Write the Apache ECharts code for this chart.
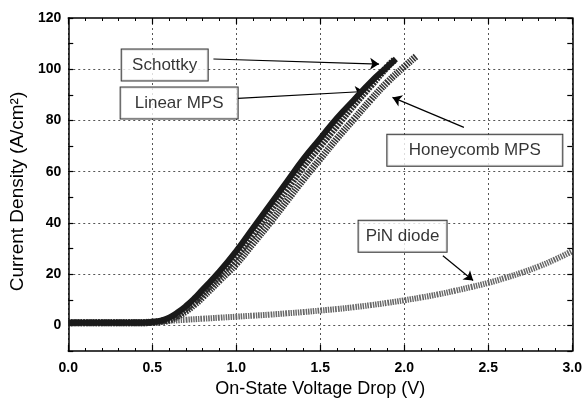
<!DOCTYPE html>
<html>
<head>
<meta charset="utf-8">
<script src="https://cdn.jsdelivr.net/npm/echarts@6/dist/echarts.min.js"></script>
<style>html,body{margin:0;padding:0;background:#fff}#c{width:585px;height:403px}</style>
</head>
<body>
<div id="c"></div>
<script>
// ---- data ----
const schottkyV = [0, 0.1, 0.2, 0.3, 0.4, 0.5, 0.55, 0.6, 0.65, 0.7, 0.75, 0.8, 0.9, 1.0, 1.1, 1.2, 1.3, 1.4, 1.5, 1.6, 1.7, 1.8, 1.9, 1.95];
const schottkyJ = [1, 1, 1, 1, 1, 1.3, 1.8, 3, 5, 7.5, 10.5, 14, 21, 29, 38, 47, 56, 65, 73, 81, 88, 95, 101, 104];
const linearV = [0, 0.1, 0.2, 0.3, 0.4, 0.5, 0.55, 0.6, 0.65, 0.7, 0.75, 0.8, 0.9, 1.0, 1.1, 1.2, 1.3, 1.4, 1.5, 1.6, 1.7, 1.8, 1.9, 1.94];
const linearJ = [1, 1, 1, 1, 1, 1.2, 1.6, 2.5, 4, 6.5, 9, 12.5, 19.5, 27, 35.5, 44.5, 53, 62, 70, 78, 86, 93.5, 101, 103.5];
const honeyV = [0, 0.1, 0.2, 0.3, 0.4, 0.5, 0.55, 0.6, 0.65, 0.7, 0.75, 0.8, 0.9, 1.0, 1.1, 1.2, 1.3, 1.4, 1.5, 1.6, 1.7, 1.8, 1.9, 2.0, 2.07];
const honeyJ = [1, 1, 1, 1, 1, 1.2, 1.5, 2, 3.5, 5.5, 8, 11, 17.5, 24, 32, 40, 48.5, 57, 65, 73, 80.5, 88, 95, 101, 105];
const pinV = [0, 0.2, 0.4, 0.5, 0.6, 0.7, 0.8, 0.9, 1.0, 1.1, 1.2, 1.3, 1.4, 1.5, 1.6, 1.7, 1.8, 1.9, 2.0, 2.1, 2.2, 2.3, 2.4, 2.5, 2.6, 2.7, 2.8, 2.9, 3.0];
const pinJ = [1, 1, 1.2, 1.5, 1.8, 2.2, 2.6, 3, 3.4, 3.8, 4.2, 4.7, 5.2, 5.8, 6.4, 7.1, 7.9, 8.8, 9.8, 10.9, 12.1, 13.5, 15, 16.6, 18.5, 20.6, 23, 25.8, 29];

// annotation labels (data coordinates)
const labelNames = ['Schottky', 'Linear MPS', 'Honeycomb MPS', 'PiN diode'];
const labelV = [0.574, 0.66, 2.42, 1.99];
const labelJ = [101.7, 86.8, 68.4, 34.8];
// arrows: from (fromV, fromJ) to (toV, toJ)
const arrowFromV = [0.864, 1.01, 2.355, 2.23];
const arrowFromJ = [104, 88.6, 77.3, 27.2];
const arrowToV = [1.85, 1.76, 1.93, 2.41];
const arrowToJ = [102, 91.3, 89, 17.5];

const yLabelStep = 20;

const zip = (a, b) => a.map((v, i) => [v, b[i]]);
const FONT = 'Liberation Sans, Arial, sans-serif';

const chart = echarts.init(document.getElementById('c'), null, {renderer: 'canvas'});

const boxW = [86, 117, 175, 88];
const boxH = 31;

const option = {
  animation: false,
  backgroundColor: '#fff',
  grid: {left: 66, right: 12, top: 18, bottom: 50},
  xAxis: [{
    type: 'value', min: 0, max: 3, interval: 0.5,
    name: 'On-State Voltage Drop (V)', nameLocation: 'middle', nameGap: 29,
    nameTextStyle: {fontFamily: FONT, fontSize: 18, color: '#000'},
    axisLine: {show: true, onZero: false, lineStyle: {color: '#000', width: 1.5}},
    axisTick: {show: true, inside: true, length: 6, lineStyle: {color: '#000', width: 1.2}},
    minorTick: {show: true, splitNumber: 5, length: 3, lineStyle: {color: '#000', width: 1}},
    axisLabel: {fontFamily: FONT, fontSize: 14, fontWeight: 'bold', color: '#000', margin: 10,
      formatter: v => v.toFixed(1)},
    splitLine: {show: true, lineStyle: {color: '#555', type: [2, 3], width: 1}}
  }, {
    type: 'value', position: 'top', min: 0, max: 3, interval: 0.5,
    axisLine: {show: true, onZero: false, lineStyle: {color: '#000', width: 1.5}},
    axisTick: {show: true, inside: true, length: 6, lineStyle: {color: '#000', width: 1.2}},
    minorTick: {show: true, splitNumber: 5, length: 3, lineStyle: {color: '#000', width: 1}},
    axisLabel: {show: false}, splitLine: {show: false}
  }],
  yAxis: [{
    type: 'value', min: -10, max: 120, interval: 10,
    name: 'Current Density (A/cm²)', nameLocation: 'middle', nameGap: 31,
    nameTextStyle: {fontFamily: FONT, fontSize: 19, color: '#000', padding: [0, 14, 0, 0]},
    axisLine: {show: true, onZero: false, lineStyle: {color: '#000', width: 1.5}},
    axisTick: {show: true, inside: true, length: 5, lineStyle: {color: '#000', width: 1.2}},
    axisLabel: {fontFamily: FONT, fontSize: 14, fontWeight: 'bold', color: '#000', margin: 7,
      formatter: v => (v % yLabelStep === 0 ? String(v) : '')},
    splitLine: {show: true, showMinLine: false, showMaxLine: false,
      lineStyle: {color: ['#555', 'rgba(0,0,0,0)'], type: [2, 3], width: 1}}
  }, {
    type: 'value', position: 'right', min: -10, max: 120, interval: 10,
    axisLine: {show: true, onZero: false, lineStyle: {color: '#000', width: 1.5}},
    axisTick: {show: true, inside: true, length: 5, lineStyle: {color: '#000', width: 1.2}},
    axisLabel: {show: false}, splitLine: {show: false}
  }],
  series: [
    {
      name: 'PiN diode', type: 'line', smooth: true, showSymbol: false,
      data: zip(pinV, pinJ),
      lineStyle: {color: '#666', width: 6, type: [1.5, 1]}, z: 2
    },
    {
      name: 'Honeycomb MPS', type: 'line', smooth: true, showSymbol: false,
      data: zip(honeyV, honeyJ),
      lineStyle: {color: '#333', width: 7, type: [1.5, 1]}, z: 3
    },
    {
      name: 'Linear MPS', type: 'line', smooth: true, showSymbol: false,
      data: zip(linearV, linearJ),
      lineStyle: {color: '#2a2a2a', width: 7, type: [2, 1]}, z: 4
    },
    {
      name: 'Schottky', type: 'line', smooth: true, showSymbol: false,
      data: zip(schottkyV, schottkyJ),
      lineStyle: {color: '#1a1a1a', width: 6}, z: 5
    },
    {
      name: 'arrows', type: 'line', data: [], silent: true, z: 6,
      markLine: {
        silent: true, animation: false,
        symbol: ['none', 'arrow'], symbolSize: 9,
        label: {show: false},
        emphasis: {disabled: true},
        lineStyle: {color: '#000', width: 1.2, type: 'solid'},
        data: arrowFromV.map((v, i) => [
          {coord: [v, arrowFromJ[i]]},
          {coord: [arrowToV[i], arrowToJ[i]]}
        ])
      }
    },
    {
      name: 'labels', type: 'scatter', symbolSize: 1, silent: true, z: 10,
      itemStyle: {color: 'transparent'},
      data: labelNames.map((n, i) => ({
        value: [labelV[i], labelJ[i]], name: n,
        label: {width: boxW[i]}
      })),
      label: {
        show: true, position: 'inside', formatter: p => p.name,
        fontFamily: FONT, fontSize: 17, color: '#000',
        height: boxH, lineHeight: boxH, align: 'center', verticalAlign: 'middle', padding: 0,
        textBorderWidth: 0, textBorderColor: 'transparent',
        backgroundColor: '#fff', borderColor: '#000', borderWidth: 1
      }
    }
  ]
};
chart.setOption(option);
</script>
</body>
</html>
